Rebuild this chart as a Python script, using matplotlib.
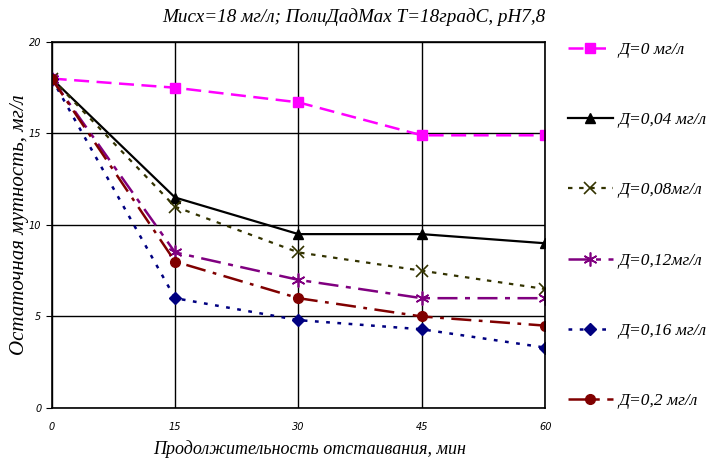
import matplotlib.pyplot as plt

t = [0, 15, 30, 45, 60]
d0 = [18, 17.5, 16.7, 14.9, 14.9]
d004 = [18, 11.5, 9.5, 9.5, 9.0]
d008 = [18, 11.0, 8.5, 7.5, 6.5]
d012 = [18, 8.5, 7.0, 6.0, 6.0]
d016 = [18, 6.0, 4.8, 4.3, 3.3]
d02 = [18, 8.0, 6.0, 5.0, 4.5]
labels = ["Д=0 мг/л", "Д=0,04 мг/л", "Д=0,08мг/л", "Д=0,12мг/л", "Д=0,16 мг/л", "Д=0,2 мг/л"]

serif = ["Liberation Serif", "DejaVu Serif"]

fig = plt.figure(figsize=(7.08, 4.61), dpi=100)
ax = fig.add_axes([0.073, 0.115, 0.697, 0.794])

ax.plot(t, d0, color="#ff00ff", ls=(0, (6, 3)), lw=1.8, marker="s", ms=7, label=labels[0])
ax.plot(t, d004, color="black", ls="-", lw=1.6, marker="^", ms=7, label=labels[1])
ax.plot(t, d008, color="#333300", ls=(0, (2, 3)), lw=1.6, marker="x", ms=8, mew=1.2, label=labels[2])
ax.plot(t, d012, color="#800080", ls=(0, (8, 3, 2, 3)), lw=1.8, marker=(6, 2, 0), ms=10, mew=1.2, label=labels[3])
ax.plot(t, d016, color="#000080", ls=(0, (1.5, 3)), lw=1.8, marker="D", ms=6, label=labels[4])
ax.plot(t, d02, color="#800000", ls=(0, (8, 3, 1.5, 3)), lw=1.8, marker="o", ms=7, label=labels[5])

ax.set_xlim(0, 60)
ax.set_ylim(0, 20)
ax.set_xticks(t)
ax.set_yticks([0, 5, 10, 15, 20])
ax.grid(True, color="black", lw=1.0)
ax.set_axisbelow(True)
for s in ax.spines.values():
    s.set_linewidth(1.2)
ax.tick_params(axis="y", length=4, direction="out", labelsize=7)
ax.tick_params(axis="x", length=0, pad=10, labelsize=7)
for lb in ax.get_xticklabels() + ax.get_yticklabels():
    lb.set_fontstyle("italic")

ax.set_xlabel("Продолжительность отстаивания, мин", family=serif, style="italic", fontsize=13)
ax.xaxis.set_label_coords(0.523, -0.088)
ax.set_ylabel("Остаточная мутность, мг/л", family=serif, style="italic", fontsize=15, labelpad=0)
fig.text(0.5, 0.962, "Мисх=18 мг/л; ПолиДадМах Т=18градС, рН7,8", family=serif, style="italic",
         fontsize=13.8, ha="center", va="center")

ax.legend(loc="upper left", bbox_to_anchor=(1.032, 1.02), frameon=False, labelspacing=3.12,
          handlelength=2.6, handletextpad=0.3, borderaxespad=0,
          prop={"family": serif, "style": "italic", "size": 12.5})

fig.savefig("out.png", dpi=100)
